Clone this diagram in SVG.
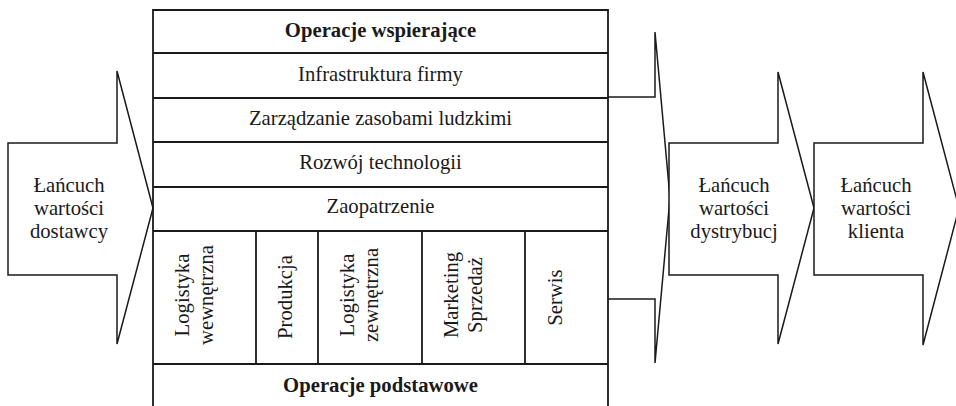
<svg xmlns="http://www.w3.org/2000/svg" width="956" height="406" viewBox="0 0 956 406">
<style>
.ln{fill:none;stroke:#1a1a1a;stroke-width:1.8}
.ar{fill:#fff;stroke:#1a1a1a;stroke-width:1.5;stroke-linejoin:miter}
.t{font-family:'Liberation Serif','Times New Roman',serif;font-size:20.7px;fill:#1a1a1a;text-anchor:middle}
.b{font-weight:bold}
</style>
<rect width="956" height="406" fill="#fff"/>
<g id="connectors">
<path class="ar" d="M608,97 H655 V32 L670,198 L655,363 V299 H608" fill="none"/>
</g>
<g id="supplier-chain">
<polygon class="ar" points="8,143 117,143 117,71 153,208 117,344 117,275 8,275"/>
<text class="t"><tspan x="69" y="192">Łańcuch</tspan><tspan x="69" y="215">wartości</tspan><tspan x="69" y="238">dostawcy</tspan></text>
</g>
<g id="distribution-chain">
<polygon class="ar" points="669,143 778,143 778,72 814,208 778,344 778,275 669,275"/>
<text class="t"><tspan x="734" y="192">Łańcuch</tspan><tspan x="734" y="215">wartości</tspan><tspan x="734" y="238">dystrybucj</tspan></text>
</g>
<g id="customer-chain">
<polygon class="ar" points="814,143 923,143 923,72 959,208 923,345 923,275 814,275"/>
<text class="t"><tspan x="876" y="192">Łańcuch</tspan><tspan x="876" y="215">wartości</tspan><tspan x="876" y="238">klienta</tspan></text>
</g>
<g id="firm-value-chain">
<path class="ln" d="M153,406 V10 H608 V406 M153,53 H608 M153,98 H608 M153,142 H608 M153,187 H608 M153,231 H608 M153,364 H608 M256,231 V364 M318,231 V364 M422,231 V364 M525,231 V364"/>
<text class="t b" x="380.5" y="37">Operacje wspierające</text>
<text class="t" x="380.5" y="81">Infrastruktura firmy</text>
<text class="t" x="380.5" y="125">Zarządzanie zasobami ludzkimi</text>
<text class="t" x="380.5" y="169">Rozwój technologii</text>
<text class="t" x="380.5" y="213">Zaopatrzenie</text>
<text class="t" transform="translate(189,295) rotate(-90)"><tspan x="0" y="0">Logistyka</tspan><tspan x="0" y="23.5">wewnętrzna</tspan></text>
<text class="t" transform="translate(292,297) rotate(-90)">Produkcja</text>
<text class="t" transform="translate(354,295) rotate(-90)"><tspan x="0" y="0">Logistyka</tspan><tspan x="0" y="24">zewnętrzna</tspan></text>
<text class="t" transform="translate(458,295) rotate(-90)"><tspan x="0" y="0">Marketing</tspan><tspan x="0" y="24">Sprzedaż</tspan></text>
<text class="t" transform="translate(562,297.5) rotate(-90)">Serwis</text>
<text class="t b" x="380.5" y="392">Operacje podstawowe</text>
</g>
</svg>
